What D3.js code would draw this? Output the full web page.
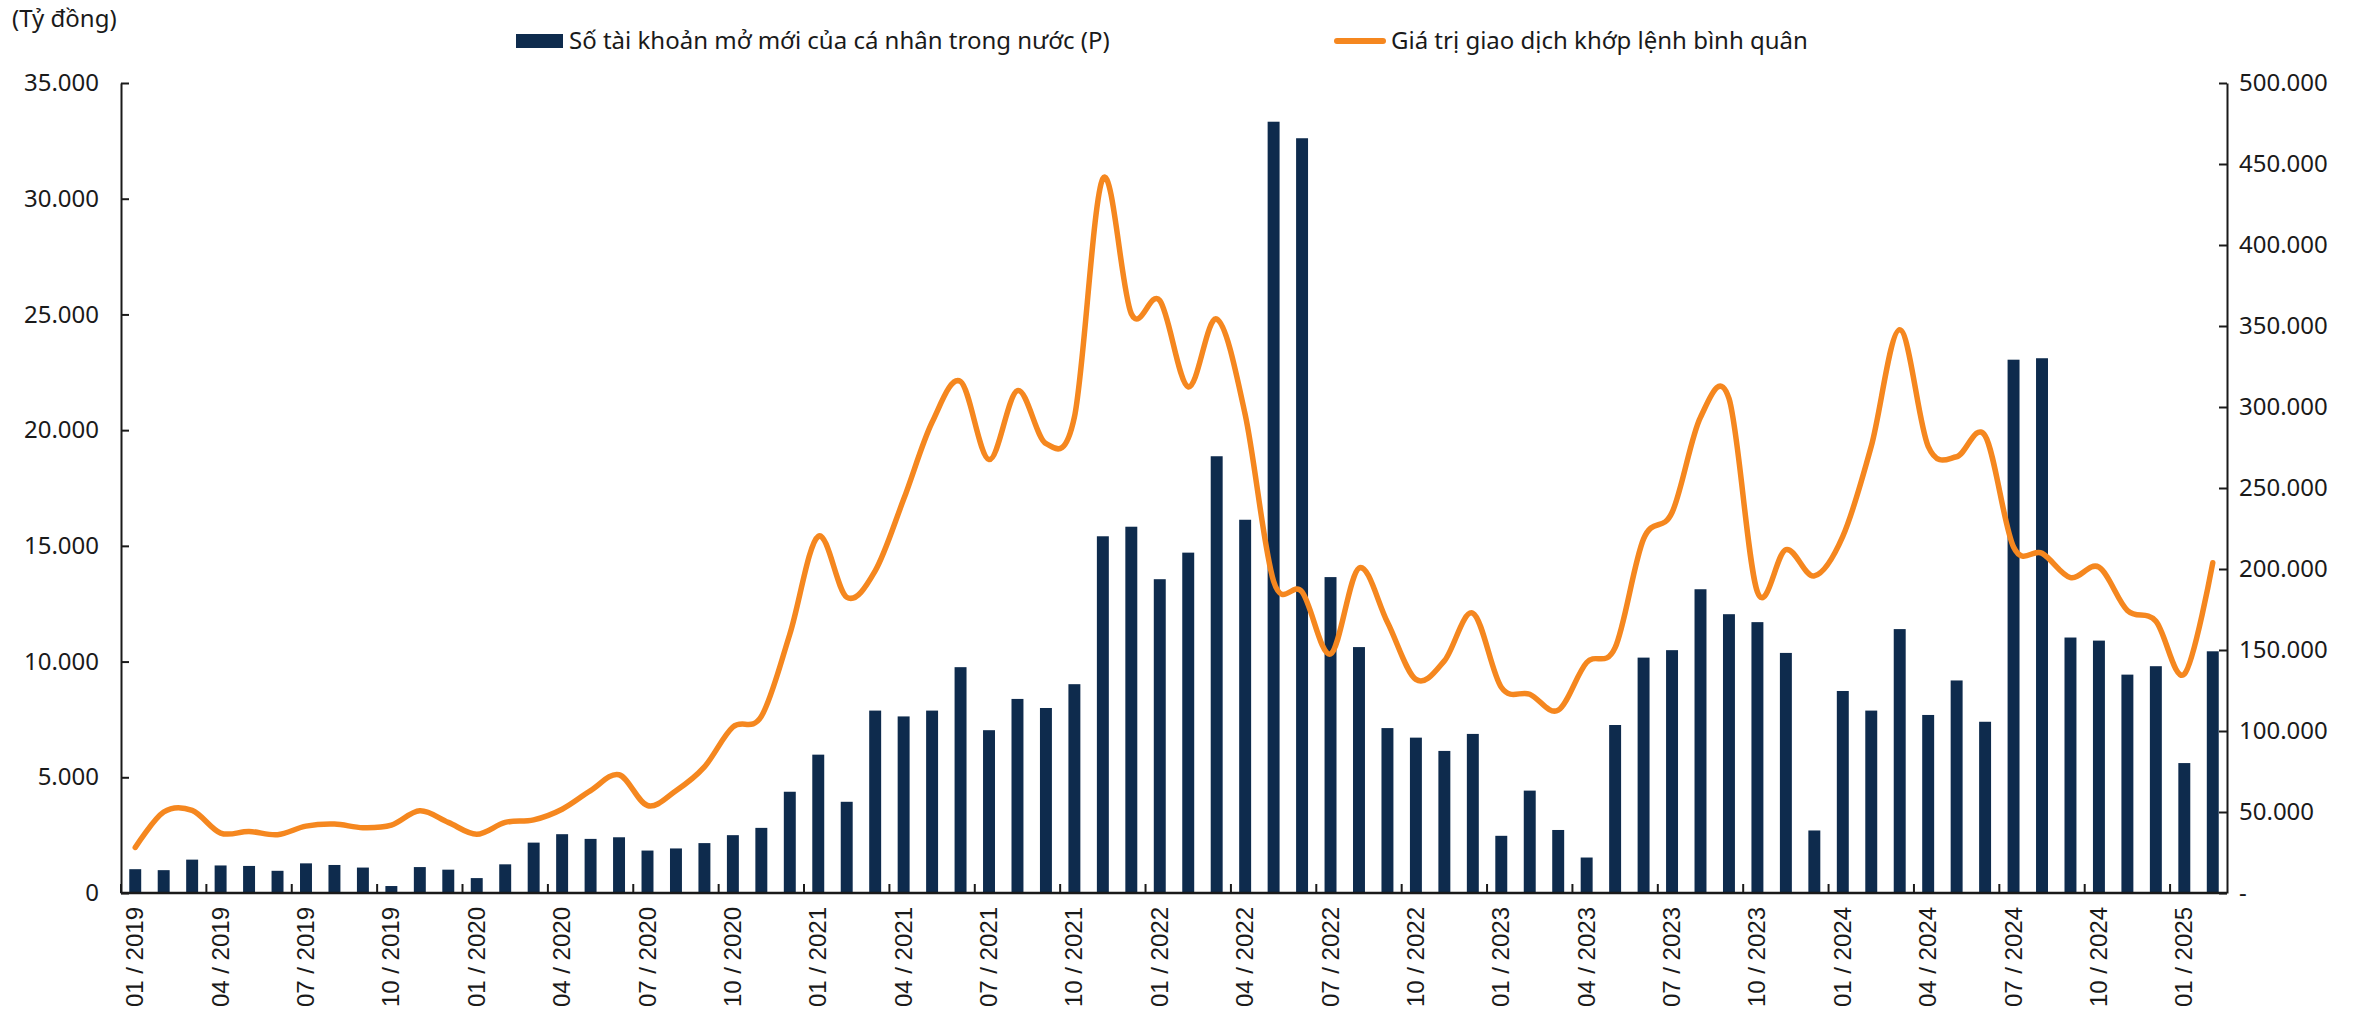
<!DOCTYPE html>
<html>
<head>
<meta charset="utf-8">
<script src="https://d3js.org/d3.v7.min.js"></script>
<style>
  body { margin: 0; background: #fff; }
  svg text { font-family: "Noto Sans", sans-serif; fill: #1a1a1a; }
  .xlab text { font-family: "Liberation Sans", Arial, sans-serif; }
</style>
</head>
<body>
<svg id="chart" width="2379" height="1017"></svg>
<script>
// months on the category axis
var months = ["01 / 2019","02 / 2019","03 / 2019","04 / 2019","05 / 2019","06 / 2019","07 / 2019","08 / 2019","09 / 2019","10 / 2019","11 / 2019","12 / 2019",
  "01 / 2020","02 / 2020","03 / 2020","04 / 2020","05 / 2020","06 / 2020","07 / 2020","08 / 2020","09 / 2020","10 / 2020","11 / 2020","12 / 2020",
  "01 / 2021","02 / 2021","03 / 2021","04 / 2021","05 / 2021","06 / 2021","07 / 2021","08 / 2021","09 / 2021","10 / 2021","11 / 2021","12 / 2021",
  "01 / 2022","02 / 2022","03 / 2022","04 / 2022","05 / 2022","06 / 2022","07 / 2022","08 / 2022","09 / 2022","10 / 2022","11 / 2022","12 / 2022",
  "01 / 2023","02 / 2023","03 / 2023","04 / 2023","05 / 2023","06 / 2023","07 / 2023","08 / 2023","09 / 2023","10 / 2023","11 / 2023","12 / 2023",
  "01 / 2024","02 / 2024","03 / 2024","04 / 2024","05 / 2024","06 / 2024","07 / 2024","08 / 2024","09 / 2024","10 / 2024","11 / 2024","12 / 2024",
  "01 / 2025","02 / 2025"];

// new accounts opened by domestic individuals (right axis)
var accounts = [14700,14100,20600,17000,16700,13700,18300,17300,15700,4300,16000,14400,
  9200,17700,31100,36300,33400,34400,26200,27500,30800,35700,40200,62500,
  85400,56300,112600,109000,112600,139400,100500,119800,114200,128900,220200,226100,
  193700,210100,269600,230400,476100,465900,195000,151800,101800,95900,87700,98200,
  35300,63200,38900,21900,103700,145300,149900,187500,172100,167200,148200,38600,
  124700,112600,162900,109900,131200,105700,329200,330100,157700,155800,134800,140000,
  80200,149200];

// average matched trading value, ty dong (left axis)
var matched = [1970,3500,3570,2590,2660,2520,2890,2980,2820,2930,3550,3050,
  2540,3050,3160,3620,4420,5110,3780,4420,5450,7170,7630,11180,
  15410,12780,13920,17010,20340,22100,18730,21710,19420,20560,30870,25030,
  25600,21870,24800,20680,13470,13010,10330,14040,11700,9230,10030,12090,
  8890,8590,7900,9960,10600,15300,16440,20560,21370,13010,14840,13700,
  15410,19300,24340,19300,18850,19760,14950,14680,13630,14080,12210,11750,
  9460,14270];

var leftTicks = [0,5000,10000,15000,20000,25000,30000,35000];
var rightTicks = [0,50000,100000,150000,200000,250000,300000,350000,400000,450000,500000];

var barColor = "#0e2b4d", lineColor = "#f5871f";
var svg = d3.select("#chart");
var L = 121, R = 2227, T = 83, B = 893;

var vn = d3.formatLocale({decimal: ",", thousands: ".", grouping: [3], currency: ["", ""]});
var fmt = vn.format(",");

var x = d3.scaleBand().domain(months).range([L, R]).padding(0);
var yL = d3.scaleLinear().domain([0, 35000]).range([B, T]);
var yR = d3.scaleLinear().domain([0, 500000]).range([B, T]);
var bw = x.bandwidth() * 0.42;

// bars
svg.append("g").selectAll("rect").data(accounts).enter().append("rect")
  .attr("x", function(d, i){ return x(months[i]) + (x.bandwidth() - bw) / 2; })
  .attr("y", function(d){ return yR(d); })
  .attr("width", bw)
  .attr("height", function(d){ return B - yR(d); })
  .attr("fill", barColor);

// line
var line = d3.line()
  .x(function(d, i){ return x(months[i]) + x.bandwidth() / 2; })
  .y(function(d){ return yL(d); })
  .curve(d3.curveCardinal.tension(0));
svg.append("path").datum(matched)
  .attr("d", line).attr("fill", "none")
  .attr("stroke", lineColor).attr("stroke-width", 5.5)
  .attr("stroke-linejoin", "round").attr("stroke-linecap", "round");

// y axes (ticks point inward)
var gl = svg.append("g").attr("transform", "translate(" + L + ",0)")
  .call(d3.axisLeft(yL).tickValues(leftTicks).tickSize(-8).tickSizeOuter(0).tickPadding(22).tickFormat(fmt));
var gr = svg.append("g").attr("transform", "translate(" + R + ",0)")
  .call(d3.axisRight(yR).tickValues(rightTicks).tickSize(-8).tickSizeOuter(0).tickPadding(12)
    .tickFormat(function(d){ return d === 0 ? "-" : fmt(d); }));
[gl, gr].forEach(function(g){
  g.selectAll("text").style("font-size", "24px").attr("fill", "#1a1a1a");
  g.selectAll("line, path").attr("stroke", "#1a1a1a").attr("stroke-width", 2);
});

// x axis: baseline, ticks between categories every 3 months, labels rotated
svg.append("line").attr("x1", L).attr("x2", R).attr("y1", B).attr("y2", B)
  .attr("stroke", "#1a1a1a").attr("stroke-width", 2.5);
var every3 = months.filter(function(d, i){ return i % 3 === 0; });
svg.append("g").selectAll("line").data(every3).enter().append("line")
  .attr("x1", function(d){ return x(d); }).attr("x2", function(d){ return x(d); })
  .attr("y1", B).attr("y2", B - 9)
  .attr("stroke", "#1a1a1a").attr("stroke-width", 2);
svg.append("g").attr("class", "xlab").selectAll("text").data(every3).enter().append("text")
  .attr("transform", function(d){ return "translate(" + (x(d) + x.bandwidth() / 2 + 8) + "," + (B + 14) + ") rotate(-90)"; })
  .attr("text-anchor", "end")
  .style("font-size", "24px")
  .text(function(d){ return d; });

// unit label
svg.append("text").attr("x", 12).attr("y", 27).style("font-size", "24px").text("(Tỷ đồng)");

// legend
svg.append("rect").attr("x", 516).attr("y", 34).attr("width", 47).attr("height", 14).attr("fill", barColor);
svg.append("text").attr("x", 569).attr("y", 49).style("font-size", "24px")
  .text("Số tài khoản mở mới của cá nhân trong nước (P)");
svg.append("line").attr("x1", 1337).attr("x2", 1383).attr("y1", 41).attr("y2", 41)
  .attr("stroke", lineColor).attr("stroke-width", 6).attr("stroke-linecap", "round");
svg.append("text").attr("x", 1391).attr("y", 49).style("font-size", "24px")
  .text("Giá trị giao dịch khớp lệnh bình quân");
</script>
</body>
</html>
